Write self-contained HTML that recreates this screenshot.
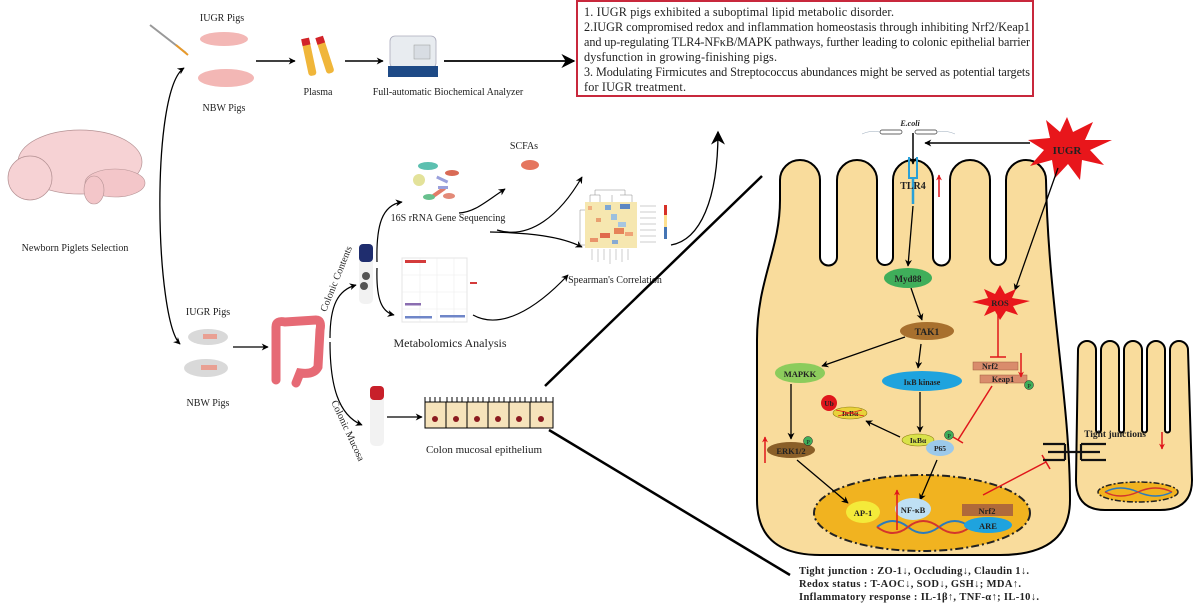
<!DOCTYPE html>
<html><head><meta charset="utf-8"><style>
html,body{margin:0;padding:0;background:#fff;width:1200px;height:608px;overflow:hidden}
svg{display:block}
text{font-family:"Liberation Serif",serif;fill:#222}
.b{font-weight:bold}
</style></head><body>
<svg width="1200" height="608" viewBox="0 0 1200 608" xmlns="http://www.w3.org/2000/svg">
<defs>
<marker id="ah" viewBox="0 0 10 10" refX="9" refY="5" markerWidth="7" markerHeight="7" orient="auto-start-reverse" markerUnits="userSpaceOnUse"><path d="M0,0 L10,5 L0,10 L3,5 Z" fill="#000"/></marker>
<marker id="ab" viewBox="0 0 10 10" refX="9" refY="5" markerWidth="14" markerHeight="14" orient="auto-start-reverse" markerUnits="userSpaceOnUse"><path d="M0,0 L10,5 L0,10 L3,5 Z" fill="#000"/></marker>
<marker id="ar" viewBox="0 0 10 10" refX="9" refY="5" markerWidth="6" markerHeight="6" orient="auto" markerUnits="userSpaceOnUse"><path d="M0,0 L10,5 L0,10 L3,5 Z" fill="#e0161b"/></marker>
</defs>

<!-- summary box -->
<rect x="577" y="1" width="456" height="95" fill="#fff" stroke="#c8283c" stroke-width="2"/>
<g font-size="12.2">
<text x="584" y="16" textLength="310">1. IUGR pigs exhibited a suboptimal lipid metabolic disorder.</text>
<text x="584" y="31" textLength="446">2.IUGR compromised redox and inflammation homeostasis through inhibiting Nrf2/Keap1</text>
<text x="584" y="46" textLength="446">and up-regulating TLR4-NFκB/MAPK pathways, further leading to colonic epithelial barrier</text>
<text x="584" y="61" textLength="193">dysfunction in growing-finishing pigs.</text>
<text x="584" y="76" textLength="446">3. Modulating Firmicutes and Streptococcus abundances might be served as potential targets</text>
<text x="584" y="91" textLength="102">for IUGR treatment.</text>
</g>

<!-- top row -->
<text x="222" y="21" font-size="10" text-anchor="middle">IUGR Pigs</text>
<text x="224" y="111" font-size="10" text-anchor="middle">NBW Pigs</text>
<line x1="150" y1="25" x2="186" y2="53" stroke="#999" stroke-width="2"/><line x1="176" y1="45" x2="188" y2="55" stroke="#e89a2a" stroke-width="2"/>
<ellipse cx="224" cy="39" rx="24" ry="7" fill="#f3b7b5"/><ellipse cx="226" cy="78" rx="28" ry="9" fill="#f3b7b5"/>
<line x1="256" y1="61" x2="295" y2="61" stroke="#000" stroke-width="1.5" marker-end="url(#ah)"/>
<rect x="305" y="38" width="8" height="38" rx="3" fill="#f0b63a" transform="rotate(-12 309 57)"/><rect x="305" y="38" width="8" height="7" fill="#d2232a" transform="rotate(-12 309 57)"/>
<rect x="321" y="36" width="8" height="38" rx="3" fill="#f0b63a" transform="rotate(-18 325 55)"/><rect x="321" y="36" width="8" height="7" fill="#d2232a" transform="rotate(-18 325 55)"/>
<text x="318" y="95" font-size="10" text-anchor="middle">Plasma</text>
<line x1="345" y1="61" x2="383" y2="61" stroke="#000" stroke-width="1.5" marker-end="url(#ah)"/>
<rect x="390" y="36" width="46" height="32" rx="5" fill="#e8ecf0" stroke="#aab" stroke-width="0.8"/>
<path d="M388 66 L438 66 L438 77 L388 77 Z" fill="#1e4a86"/>
<rect x="414" y="45" width="16" height="14" fill="#d8dde3" stroke="#999" stroke-width="0.5"/>
<text x="448" y="95" font-size="10" text-anchor="middle">Full-automatic Biochemical Analyzer</text>
<line x1="444" y1="61" x2="574" y2="61" stroke="#000" stroke-width="1.8" marker-end="url(#ab)"/>

<!-- sow -->
<ellipse cx="80" cy="162" rx="62" ry="32" fill="#f6d2d4" stroke="#b59294" stroke-width="0.7"/>
<ellipse cx="30" cy="178" rx="22" ry="22" fill="#f6d2d4" stroke="#b59294" stroke-width="0.7"/>
<ellipse cx="115" cy="183" rx="30" ry="14" fill="#f3c6c9" stroke="#b59294" stroke-width="0.6"/>
<ellipse cx="94" cy="190" rx="10" ry="14" fill="#f3c6c9" stroke="#b59294" stroke-width="0.6"/>
<text x="75" y="251" font-size="10" text-anchor="middle">Newborn Piglets Selection</text>

<path d="M184 68 C150 90 155 320 180 344" fill="none" stroke="#000" stroke-width="1.3" marker-start="url(#ah)" marker-end="url(#ah)"/>

<text x="208" y="315" font-size="10" text-anchor="middle">IUGR Pigs</text>
<text x="208" y="406" font-size="10" text-anchor="middle">NBW Pigs</text>
<ellipse cx="208" cy="337" rx="20" ry="8" fill="#d9d9d9"/><rect x="203" y="334" width="14" height="5" fill="#e9a093"/>
<ellipse cx="206" cy="368" rx="22" ry="9" fill="#d9d9d9"/><rect x="201" y="365" width="16" height="5" fill="#e9a093"/>
<line x1="233" y1="347" x2="268" y2="347" stroke="#000" stroke-width="1.3" marker-end="url(#ah)"/>
<path d="M276 380 L276 327 Q276 320 285 322 L316 320 Q322 320 320 330 L318 367 Q314 375 300 373 L296 383" fill="none" stroke="#e66a75" stroke-width="9" stroke-linecap="round"/>

<text transform="translate(339 280) rotate(-68)" font-size="10" text-anchor="middle">Colonic Contents</text>
<text transform="translate(345 432) rotate(65)" font-size="10" text-anchor="middle">Colonic Mucosa</text>
<path d="M330 338 C330 305 338 290 356 285" fill="none" stroke="#000" stroke-width="1.2" marker-end="url(#ah)"/>
<path d="M330 342 C330 385 338 415 362 425" fill="none" stroke="#000" stroke-width="1.2" marker-end="url(#ah)"/>
<rect x="359" y="244" width="14" height="60" rx="5" fill="#f2f2f2"/><rect x="359" y="244" width="14" height="18" rx="4" fill="#1f2d6e"/>
<circle cx="366" cy="276" r="4" fill="#555"/><circle cx="364" cy="286" r="4" fill="#555"/>
<rect x="370" y="386" width="14" height="60" rx="5" fill="#f2f2f2"/><rect x="370" y="386" width="14" height="14" rx="4" fill="#c8202a"/>
<path d="M377 262 C376 225 382 205 402 202" fill="none" stroke="#000" stroke-width="1.2" marker-end="url(#ah)"/>
<path d="M377 268 C376 300 382 312 394 315" fill="none" stroke="#000" stroke-width="1.2" marker-end="url(#ah)"/>

<!-- bacteria -->
<ellipse cx="428" cy="166" rx="10" ry="4" fill="#5cc0b0"/><circle cx="419" cy="180" r="6" fill="#e3e29a"/>
<ellipse cx="452" cy="173" rx="7" ry="3" fill="#d96a55"/><rect x="432" y="190" width="14" height="4" fill="#e37c68" transform="rotate(-35 439 192)"/>
<ellipse cx="429" cy="197" rx="6" ry="3" fill="#68c08e"/><ellipse cx="449" cy="196" rx="6" ry="3" fill="#e38a78"/>
<rect x="436" y="178" width="12" height="3" fill="#9aa0dc" transform="rotate(25 442 180)"/><rect x="438" y="186" width="10" height="3" fill="#9aa0dc"/>
<text x="448" y="221" font-size="10" text-anchor="middle">16S rRNA Gene Sequencing</text>
<path d="M459 213 C475 212 485 202 505 189" fill="none" stroke="#000" stroke-width="1.2" marker-end="url(#ah)"/>
<text x="524" y="149" font-size="10" text-anchor="middle">SCFAs</text>
<ellipse cx="530" cy="165" rx="9" ry="5" fill="#e5765f"/>
<path d="M497 230 C530 240 560 215 582 177" fill="none" stroke="#000" stroke-width="1.2" marker-end="url(#ah)"/>
<path d="M490 232 C530 233 560 236 582 247" fill="none" stroke="#000" stroke-width="1.2" marker-end="url(#ah)"/>

<!-- metabolomics -->
<rect x="402" y="258" width="65" height="64" fill="#fff" stroke="#e4e4e4"/>
<g stroke="#ececec" stroke-width="0.6"><line x1="420" y1="258" x2="420" y2="322"/><line x1="437" y1="258" x2="437" y2="322"/><line x1="454" y1="258" x2="454" y2="322"/><line x1="402" y1="275" x2="467" y2="275"/><line x1="402" y1="292" x2="467" y2="292"/><line x1="402" y1="309" x2="467" y2="309"/></g>
<rect x="405" y="260" width="21" height="3" fill="#d43b3b"/><rect x="405" y="303" width="16" height="2.5" fill="#8a6db0"/>
<rect x="405" y="316" width="27" height="2.5" fill="#6f86c8"/><rect x="440" y="315" width="25" height="2.5" fill="#6f86c8"/>
<rect x="470" y="282" width="7" height="2" fill="#d43b3b"/>
<text x="450" y="347" font-size="12" text-anchor="middle">Metabolomics Analysis</text>
<path d="M473 315 C500 330 535 310 568 275" fill="none" stroke="#000" stroke-width="1.2" marker-end="url(#ah)"/>

<!-- heatmap -->
<g stroke="#888" stroke-width="0.5" fill="none"><path d="M590 202 L590 195 L600 195 L600 202 M595 195 L595 190 L625 190 L625 195 M612 195 L612 202 M620 195 L632 195 L632 202 M585 210 L580 210 L580 245 L585 245"/></g>
<rect x="585" y="202" width="52" height="46" fill="#f6e7b0"/>
<g>
<rect x="605" y="205" width="6" height="5" fill="#7fa8d4"/><rect x="620" y="204" width="10" height="5" fill="#5d87c1"/><rect x="611" y="214" width="6" height="6" fill="#9cc0de"/>
<rect x="596" y="218" width="5" height="4" fill="#e9a070"/><rect x="618" y="222" width="8" height="5" fill="#a7c6e0"/><rect x="588" y="206" width="4" height="4" fill="#f0b080"/>
<rect x="600" y="233" width="10" height="5" fill="#e06a4d"/><rect x="614" y="228" width="10" height="6" fill="#e68358"/><rect x="590" y="238" width="8" height="4" fill="#e9936a"/><rect x="625" y="232" width="8" height="4" fill="#efa377"/><rect x="612" y="240" width="6" height="4" fill="#87aad3"/>
</g>
<g stroke="#999" stroke-width="0.5"><line x1="640" y1="206" x2="656" y2="206"/><line x1="640" y1="212" x2="656" y2="212"/><line x1="640" y1="218" x2="656" y2="218"/><line x1="640" y1="224" x2="656" y2="224"/><line x1="640" y1="230" x2="656" y2="230"/><line x1="640" y1="236" x2="656" y2="236"/><line x1="640" y1="242" x2="656" y2="242"/>
<line x1="592" y1="249" x2="592" y2="260"/><line x1="598" y1="249" x2="598" y2="262"/><line x1="604" y1="249" x2="604" y2="260"/><line x1="610" y1="249" x2="610" y2="264"/><line x1="616" y1="249" x2="616" y2="260"/><line x1="622" y1="249" x2="622" y2="262"/><line x1="628" y1="249" x2="628" y2="260"/></g>
<rect x="664" y="205" width="3" height="10" fill="#d73027"/><rect x="664" y="215" width="3" height="12" fill="#fee090"/><rect x="664" y="227" width="3" height="12" fill="#4575b4"/>
<text x="615" y="283" font-size="10" text-anchor="middle">Spearman's Correlation</text>
<path d="M671 245 C700 240 718 200 718 132" fill="none" stroke="#000" stroke-width="1.3" marker-end="url(#ab)"/>

<!-- epithelium -->
<line x1="387" y1="417" x2="422" y2="417" stroke="#000" stroke-width="1.3" marker-end="url(#ah)"/>
<g stroke="#000" stroke-width="1">
<rect x="425" y="402" width="128" height="26" fill="#f6e3bb"/>
<path d="M425 402 v-5 M430 402 v-5 M435 402 v-5 M440 402 v-5 M447 402 v-5 M452 402 v-5 M457 402 v-5 M462 402 v-5 M468 402 v-5 M473 402 v-5 M478 402 v-5 M483 402 v-5 M489 402 v-5 M494 402 v-5 M499 402 v-5 M504 402 v-5 M510 402 v-5 M515 402 v-5 M520 402 v-5 M525 402 v-5 M531 402 v-5 M536 402 v-5 M541 402 v-5 M546 402 v-5 M553 402 v-5"/>
<path d="M446 402 v26 M467 402 v26 M488 402 v26 M509 402 v26 M530 402 v26"/>
</g>
<g fill="#8b1a1f"><circle cx="435" cy="419" r="3"/><circle cx="456" cy="419" r="3"/><circle cx="477" cy="419" r="3"/><circle cx="498" cy="419" r="3"/><circle cx="519" cy="419" r="3"/><circle cx="541" cy="419" r="3"/></g>
<text x="484" y="453" font-size="11" text-anchor="middle">Colon mucosal epithelium</text>

<line x1="545" y1="386" x2="762" y2="176" stroke="#000" stroke-width="2.5"/>
<line x1="549" y1="430" x2="790" y2="575" stroke="#000" stroke-width="2.5"/>

<!-- big cell -->
<path d="M780 200 L780 180 A20 20 0 0 1 820 180 L820 257 A8.5 8.5 0 0 0 837 257 L837 180 A20 20 0 0 1 877 180 L877 257 A8 8 0 0 0 893 257 L893 180 A20 20 0 0 1 933 180 L933 257 A8.5 8.5 0 0 0 950 257 L950 180 A20 20 0 0 1 990 180 L990 257 A8 8 0 0 0 1006 257 L1006 180 A20 20 0 0 1 1046 180 C1048 300 1070 400 1070 500 Q1070 555 1000 555 L820 555 Q757 555 757 500 L757 340 C757 280 780 250 780 200 Z" fill="#f9dc9c" stroke="#000" stroke-width="2"/>
<!-- small cell -->
<path d="M1078 350 A9 9 0 0 1 1096 350 L1096 430 A2.5 2.5 0 0 0 1101 430 L1101 350 A9 9 0 0 1 1119 350 L1119 430 A2.5 2.5 0 0 0 1124 430 L1124 350 A9 9 0 0 1 1142 350 L1142 430 A2.5 2.5 0 0 0 1147 430 L1147 350 A9 9 0 0 1 1165 350 L1165 430 A2.5 2.5 0 0 0 1170 430 L1170 350 A9 9 0 0 1 1188 350 L1192 480 Q1192 510 1160 510 L1105 510 Q1076 510 1076 480 Z" fill="#f9dc9c" stroke="#000" stroke-width="2"/>

<!-- nucleus -->
<ellipse cx="922" cy="513" rx="108" ry="38" fill="#f1b320" stroke="#222" stroke-width="2" stroke-dasharray="8 3 2 3"/>
<ellipse cx="1138" cy="492" rx="40" ry="10" fill="#f1b320" stroke="#222" stroke-width="1.5" stroke-dasharray="6 2 2 2"/>
<path d="M1105 492 Q1120 484 1138 492 T1172 492" fill="none" stroke="#2b7bbd" stroke-width="1.5"/><path d="M1105 492 Q1120 500 1138 492 T1172 492" fill="none" stroke="#d4362c" stroke-width="1.5"/>
<!-- DNA -->
<path d="M877 527 Q893 515 908 527 T939 527 T970 527" fill="none" stroke="#2b7bbd" stroke-width="2"/>
<path d="M877 527 Q893 539 908 527 T939 527 T970 527" fill="none" stroke="#d4362c" stroke-width="2"/>

<!-- E.coli and IUGR -->
<text x="910" y="126" font-size="8" class="b" font-style="italic" text-anchor="middle">E.coli</text>
<rect x="880" y="130" width="22" height="4" rx="2" fill="#fff" stroke="#333" stroke-width="0.7"/><rect x="915" y="130" width="22" height="4" rx="2" fill="#fff" stroke="#333" stroke-width="0.7"/>
<path d="M862 134 Q870 130 880 132 M937 132 Q947 130 955 134" fill="none" stroke="#9ab" stroke-width="0.5"/>
<line x1="913" y1="133" x2="913" y2="164" stroke="#000" stroke-width="1.5" marker-end="url(#ah)"/>
<polygon points="1067,117 1073,132 1093,122 1085,140 1112,140 1090,150 1104,165 1082,160 1080,180 1068,164 1055,178 1052,160 1030,166 1044,150 1028,140 1050,138 1046,120 1060,132" fill="#e8161b"/>
<text x="1067" y="154" font-size="11" class="b" text-anchor="middle" fill="#111">IUGR</text>
<line x1="1030" y1="143" x2="925" y2="143" stroke="#000" stroke-width="1.5" marker-end="url(#ah)"/>
<line x1="1058" y1="168" x2="1015" y2="290" stroke="#000" stroke-width="1.3" marker-end="url(#ah)"/>

<!-- TLR4 -->
<path d="M909 157 L909 178 L917 178 L917 157" fill="none" stroke="#29a0d8" stroke-width="2"/>
<line x1="913" y1="178" x2="913" y2="204" stroke="#29a0d8" stroke-width="2.5"/>
<text x="913" y="189" font-size="10" class="b" text-anchor="middle">TLR4</text>
<line x1="939" y1="197" x2="939" y2="175" stroke="#e0161b" stroke-width="1.5" marker-end="url(#ar)"/>

<!-- pathway arrows -->
<g stroke="#000" stroke-width="1.3" fill="none" marker-end="url(#ah)">
<line x1="913" y1="206" x2="908" y2="266"/>
<line x1="911" y1="288" x2="922" y2="320"/>
<line x1="905" y1="337" x2="822" y2="366"/>
<line x1="921" y1="344" x2="918" y2="368"/>
<line x1="791" y1="384" x2="791" y2="439"/>
<line x1="920" y1="392" x2="920" y2="432"/>
<line x1="900" y1="437" x2="866" y2="421"/>
<line x1="937" y1="460" x2="920" y2="500"/>
<line x1="797" y1="460" x2="848" y2="503"/>
</g>

<!-- nodes -->
<ellipse cx="908" cy="278" rx="24" ry="10" fill="#3fae5a"/><text x="908" y="282" font-size="9" class="b" text-anchor="middle">Myd88</text>
<ellipse cx="927" cy="331" rx="27" ry="9" fill="#a8702e"/><text x="927" y="335" font-size="9.5" class="b" text-anchor="middle">TAK1</text>
<ellipse cx="800" cy="373" rx="25" ry="10" fill="#8ccc5c"/><text x="800" y="377" font-size="8.5" class="b" text-anchor="middle">MAPKK</text>
<ellipse cx="922" cy="381" rx="40" ry="10" fill="#1fa3de"/><text x="922" y="385" font-size="8" class="b" text-anchor="middle">IκB kinase</text>
<polygon points="1000,285 1005,294 1016,289 1012,298 1030,301 1013,306 1018,315 1006,311 1000,320 995,311 984,316 989,306 972,302 988,298 984,289 995,294" fill="#e8161b"/>
<text x="1000" y="306" font-size="8.5" class="b" text-anchor="middle">ROS</text>
<rect x="973" y="362" width="45" height="8" fill="#d98c6c" stroke="#a05a3a" stroke-width="0.5"/><text x="990" y="369" font-size="8" class="b" text-anchor="middle">Nrf2</text>
<rect x="980" y="375" width="47" height="8" fill="#d98c6c" stroke="#a05a3a" stroke-width="0.5"/><text x="1003" y="382" font-size="8" class="b" text-anchor="middle">Keap1</text>
<circle cx="1029" cy="385" r="4.5" fill="#3fae5a" stroke="#222" stroke-width="0.5"/><text x="1029" y="388" font-size="6.5" text-anchor="middle">P</text>
<line x1="998" y1="315" x2="998" y2="357" stroke="#e0161b" stroke-width="1.5"/><line x1="990" y1="357" x2="1006" y2="357" stroke="#e0161b" stroke-width="1.5"/>
<line x1="1021" y1="353" x2="1021" y2="377" stroke="#e0161b" stroke-width="1.5" marker-end="url(#ar)"/>
<line x1="992" y1="386" x2="958" y2="440" stroke="#e0161b" stroke-width="1.5"/><line x1="953" y1="437" x2="963" y2="443" stroke="#e0161b" stroke-width="1.5"/>

<circle cx="829" cy="403" r="8" fill="#e0161b"/><text x="829" y="406" font-size="7.5" class="b" text-anchor="middle">Ub</text>
<ellipse cx="850" cy="413" rx="17" ry="6" fill="#e9d23a" stroke="#8a7a10" stroke-width="0.6"/><text x="850" y="416" font-size="7.5" class="b" text-anchor="middle">IκBα</text>
<path d="M836 410 L864 416 M838 416 L862 410" stroke="#e0161b" stroke-width="0.7"/>
<ellipse cx="918" cy="440" rx="16" ry="6" fill="#d9e24a" stroke="#8a7a10" stroke-width="0.6"/><text x="918" y="443" font-size="7.5" class="b" text-anchor="middle">IκBα</text>
<ellipse cx="940" cy="448" rx="14" ry="8" fill="#9cc9ea"/><text x="940" y="451" font-size="7.5" class="b" text-anchor="middle">P65</text>
<circle cx="949" cy="435" r="4.5" fill="#3fae5a" stroke="#222" stroke-width="0.5"/><text x="949" y="438" font-size="6.5" text-anchor="middle">P</text>
<ellipse cx="791" cy="450" rx="24" ry="8" fill="#8a5f28"/><text x="791" y="454" font-size="8.5" class="b" text-anchor="middle">ERK1/2</text>
<circle cx="808" cy="441" r="4.5" fill="#3fae5a" stroke="#222" stroke-width="0.5"/><text x="808" y="444" font-size="6.5" text-anchor="middle">P</text>
<line x1="765" y1="463" x2="765" y2="437" stroke="#e0161b" stroke-width="1.5" marker-end="url(#ar)"/>

<ellipse cx="863" cy="512" rx="17" ry="11" fill="#f4ea3a"/><text x="863" y="516" font-size="8.5" class="b" text-anchor="middle">AP-1</text>
<ellipse cx="913" cy="509" rx="18" ry="11" fill="#bfe0f4"/><text x="913" y="513" font-size="8.5" class="b" text-anchor="middle">NF-κB</text>
<line x1="897" y1="530" x2="897" y2="490" stroke="#e0161b" stroke-width="1.5" marker-end="url(#ar)"/>
<rect x="962" y="504" width="51" height="12" fill="#b06a3a"/><text x="987" y="514" font-size="8.5" class="b" text-anchor="middle">Nrf2</text>
<ellipse cx="988" cy="525" rx="24" ry="8" fill="#1fa3de"/><text x="988" y="529" font-size="8.5" class="b" text-anchor="middle">ARE</text>

<line x1="983" y1="495" x2="1046" y2="462" stroke="#e0161b" stroke-width="1.5"/><line x1="1042" y1="455" x2="1050" y2="469" stroke="#e0161b" stroke-width="1.5"/>

<!-- tight junction -->
<g stroke="#111" stroke-width="2.2" fill="none">
<path d="M1043 444 H1065 M1048 452 H1100 M1043 460 H1065 M1065 444 V460"/>
<path d="M1081 444 H1106 M1081 460 H1106 M1081 444 V460"/>
</g>
<text x="1115" y="437" font-size="9.5" class="b" text-anchor="middle">Tight junctions</text>
<line x1="1162" y1="432" x2="1162" y2="449" stroke="#e0161b" stroke-width="1.5" marker-end="url(#ar)"/>

<!-- bottom text -->
<g font-size="10.5">
<text x="799" y="574" class="b" textLength="230">Tight junction : ZO-1↓, Occluding↓, Claudin 1↓.</text>
<text x="799" y="587" class="b" textLength="222">Redox status : T-AOC↓, SOD↓, GSH↓; MDA↑.</text>
<text x="799" y="600" class="b" textLength="240">Inflammatory response : IL-1β↑, TNF-α↑; IL-10↓.</text>
</g>
</svg>
</body></html>
